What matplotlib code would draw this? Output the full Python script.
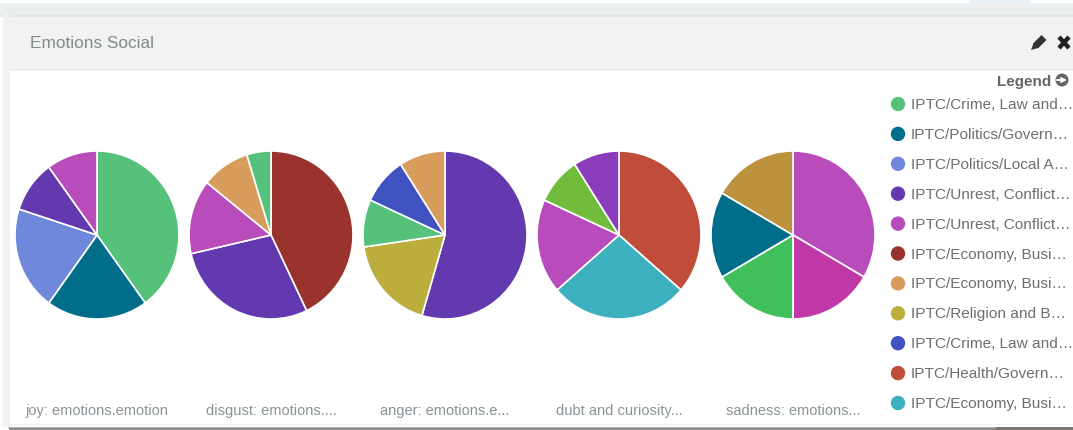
# coding: utf-8
import matplotlib
matplotlib.use('Agg')
import matplotlib.pyplot as plt
from matplotlib.patches import Rectangle, Circle, Polygon

W, H = 1073, 430

plt.rcParams['font.family'] = ['Liberation Sans', 'DejaVu Sans']

title = 'Emotions Social'
pie_labels = ['joy: emotions.emotion', 'disgust: emotions....', 'anger: emotions.e...',
              'dubt and curiosity...', 'sadness: emotions...']

joy_values = [4, 2, 2, 1, 1]
disgust_values = [9, 6, 3, 2, 1]
anger_values = [6, 2, 1, 1, 1]
dubt_values = [4, 3, 2, 1, 1]
sadness_values = [2, 1, 1, 1, 1]

joy_colors = ['#55c17a', '#006d8a', '#6f88db', '#6339b0', '#b84cbb']
disgust_colors = ['#9a332d', '#6339b0', '#b84cbb', '#d89c5c', '#55c17a']
anger_colors = ['#6339b0', '#bcae3c', '#55c17a', '#3f52bf', '#d89c5c']
dubt_colors = ['#bf4d3a', '#3cb0bf', '#b84cbb', '#71bc3c', '#8b3cbb']
sadness_colors = ['#b84cbb', '#c038a6', '#40bf5a', '#006d8a', '#bc933c']

legend_labels = ['IPTC/Crime, Law and\u2026', 'IPTC/Politics/Govern\u2026', 'IPTC/Politics/Local A\u2026',
                 'IPTC/Unrest, Conflict\u2026', 'IPTC/Unrest, Conflict\u2026', 'IPTC/Economy, Busi\u2026',
                 'IPTC/Economy, Busi\u2026', 'IPTC/Religion and B\u2026', 'IPTC/Crime, Law and\u2026',
                 'IPTC/Health/Govern\u2026', 'IPTC/Economy, Busi\u2026']
legend_colors = ['#55c17a', '#006d8a', '#6f88db', '#6339b0', '#b84cbb', '#9a332d',
                 '#d89c5c', '#bcae3c', '#3f52bf', '#bf4d3a', '#3cb0bf']

all_values = [joy_values, disgust_values, anger_values, dubt_values, sadness_values]
all_colors = [joy_colors, disgust_colors, anger_colors, dubt_colors, sadness_colors]
centers = [97, 271, 445, 619, 793]
cy = 235
rx, ry = 82, 84  # the screenshot is slightly squashed sideways

fig = plt.figure(figsize=(W / 100, H / 100), dpi=100)

# page chrome, drawn in pixel coordinates
bg = fig.add_axes([0, 0, 1, 1])
bg.set_xlim(0, W)
bg.set_ylim(H, 0)
bg.axis('off')
bg.add_patch(Rectangle((0, 0), W, H, color='white', lw=0))
bg.add_patch(Rectangle((0, 3), W, 12, color='#eaeeee', lw=0))
bg.add_patch(Rectangle((0, 15), W, 2, color='#e5e7e7', lw=0))
bg.add_patch(Rectangle((3, 15), 7, 412, color='#f0f2f3', lw=0))
bg.add_patch(Rectangle((10, 17), W, 51, color='#f2f2f2', lw=0))
bg.plot([10, W], [68.5, 68.5], color='#e4e4e4', lw=1)
bg.plot([10, W], [423.5, 423.5], color='#eef2f2', lw=1)
bg.add_patch(Rectangle((970, 0), 60, 3, color='#e6f1fb', lw=0))
# shadow under the panel
bg.add_patch(Rectangle((8, 427), 988, 1, color='#b0b0b0', lw=0))
bg.add_patch(Rectangle((9, 428), 987, 2, color='#8e8e8e', lw=0))
bg.add_patch(Rectangle((996, 427), W - 996, 3, color='#7e7470', lw=0))

bg.text(30, 44, title, fontsize=12.4, color='#7d8c8c', va='center', ha='left')

# pencil and close icons
bg.plot([1044, 1035.5], [37.5, 46], color='#333333', lw=5, solid_capstyle='butt')
bg.add_patch(Polygon([[1033.5, 43.5], [1038, 48], [1031, 50]], closed=True, color='#333333', lw=0))
bg.plot([1059, 1069], [37, 48], color='#222222', lw=3.2, solid_capstyle='butt')
bg.plot([1069, 1059], [37, 48], color='#222222', lw=3.2, solid_capstyle='butt')

bg.text(997, 82, 'Legend', fontsize=11, color='#666666', fontweight='bold', va='center', ha='left')
bg.add_patch(Circle((1062, 80), 6.5, color='#666666', lw=0))
bg.annotate('', xy=(1067, 80), xytext=(1057, 80),
            arrowprops=dict(arrowstyle='->', color='white', lw=1.4, mutation_scale=7,
                            shrinkA=0, shrinkB=0))

for i, (lab, col) in enumerate(zip(legend_labels, legend_colors)):
    y = 104 + i * 29.9
    bg.add_patch(Circle((898, y), 7.2, color=col, lw=0))
    bg.text(911, y + 1, lab, fontsize=11.1, color='#6e6e6e', va='center', ha='left')

for cx, lab in zip(centers, pie_labels):
    bg.text(cx, 411, lab, fontsize=10.5, color='#8a9396', va='center', ha='center')

# one axes per pie, sized so the pie lands on the reference pixels
for cx, vals, cols in zip(centers, all_values, all_colors):
    ax = fig.add_axes([(cx - rx) / W, (H - cy - ry) / H, 2 * rx / W, 2 * ry / H])
    ax.pie(vals, colors=cols, startangle=90, counterclock=False, radius=1.0,
           wedgeprops=dict(edgecolor='white', linewidth=1.2, clip_on=False))
    ax.set_aspect('auto')
    ax.set_xlim(-1, 1)
    ax.set_ylim(-1, 1)

fig.savefig('out.png', dpi=100)
